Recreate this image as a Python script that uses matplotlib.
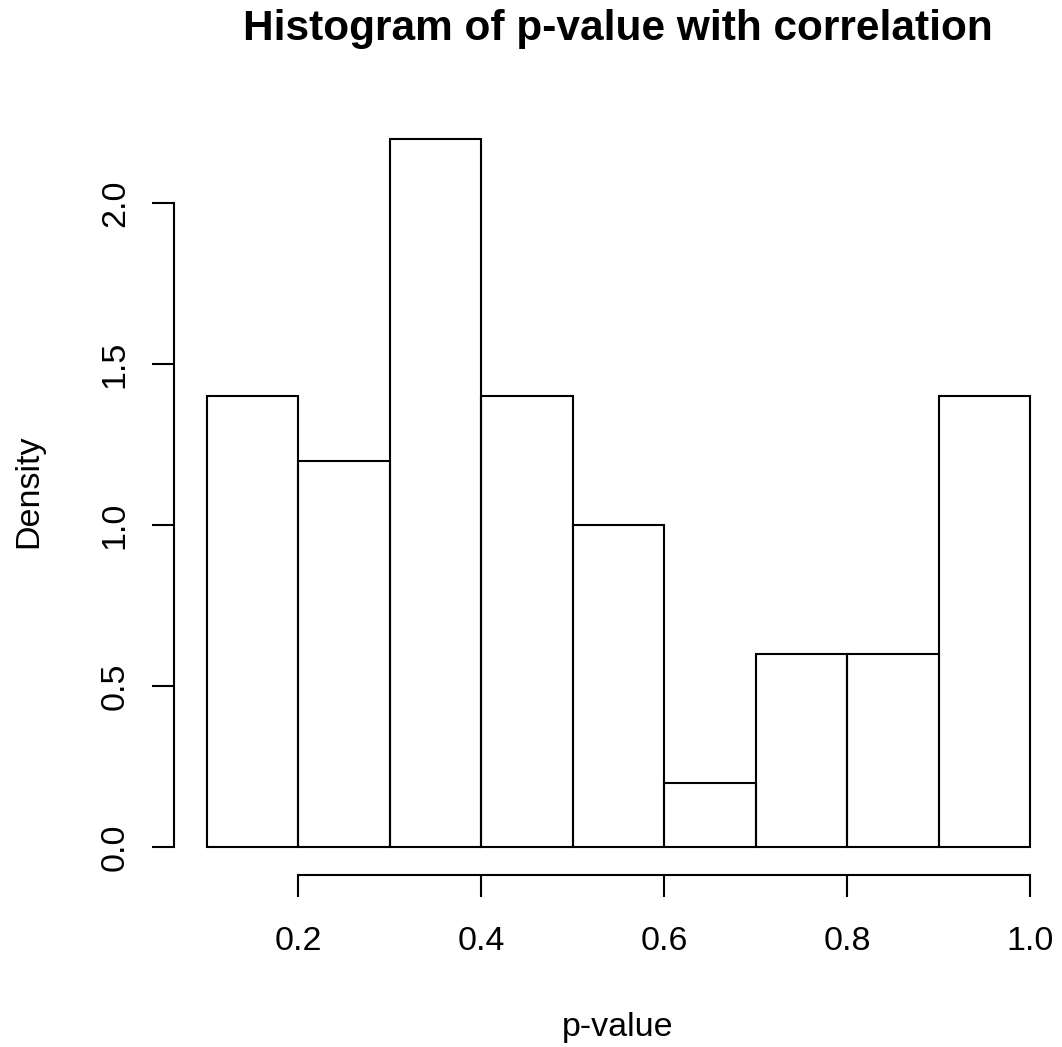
import numpy as np
import matplotlib
matplotlib.use("Agg")
import matplotlib.pyplot as plt

# histogram data (density per bin)
bin_edges = [0.1, 0.2, 0.3, 0.4, 0.5, 0.6, 0.7, 0.8, 0.9, 1.0]
density = [1.4, 1.2, 2.2, 1.4, 1.0, 0.2, 0.6, 0.6, 1.4]

x_ticks = [0.2, 0.4, 0.6, 0.8, 1.0]
x_tick_labels = ["0.2", "0.4", "0.6", "0.8", "1.0"]
y_ticks = [0.0, 0.5, 1.0, 1.5, 2.0]
y_tick_labels = ["0.0", "0.5", "1.0", "1.5", "2.0"]

plt.rcParams['font.family'] = ['Liberation Sans', 'DejaVu Sans']

W, H = 1062, 1047
fig = plt.figure(figsize=(W / 100, H / 100), dpi=100)
ax = fig.add_axes([0.1635, 0.1640, 0.8375, 0.7307])

edges = np.array(bin_edges)
ax.bar(edges[:-1], density, width=np.diff(edges), align='edge',
       fill=False, edgecolor='black', linewidth=1.5)

# R-style plot region: data range padded by 4%
ax.set_xlim(0.064, 1.036)
ax.set_ylim(-0.088, 2.288)

for side in ['top', 'right']:
    ax.spines[side].set_visible(False)
ax.spines['left'].set_bounds(0.0, 2.0)
ax.spines['bottom'].set_bounds(0.2, 1.0)
ax.spines['left'].set_linewidth(1.5)
ax.spines['bottom'].set_linewidth(1.5)

ax.set_xticks(x_ticks)
ax.set_xticklabels(x_tick_labels)
ax.set_yticks(y_ticks)
ax.set_yticklabels(y_tick_labels, rotation=90, va='center')
ax.tick_params(axis='both', length=15.8, width=1.5, labelsize=24.5, direction='out')
ax.tick_params(axis='x', pad=21)
ax.tick_params(axis='y', pad=15)

# title and axis labels placed like R's margin lines
fig.text(618 / W, 1 - 40 / H, "Histogram of p-value with correlation",
         ha='center', va='baseline', fontsize=30.5, fontweight='bold')
fig.text(618 / W, 1 - 1036 / H, "p-value", ha='center', va='baseline', fontsize=24.5)
fig.text(37 / W, 1 - 491 / H, "Density", rotation=90, rotation_mode='anchor',
         ha='center', va='baseline', fontsize=24.5)

fig.savefig("out.png", dpi=100)
